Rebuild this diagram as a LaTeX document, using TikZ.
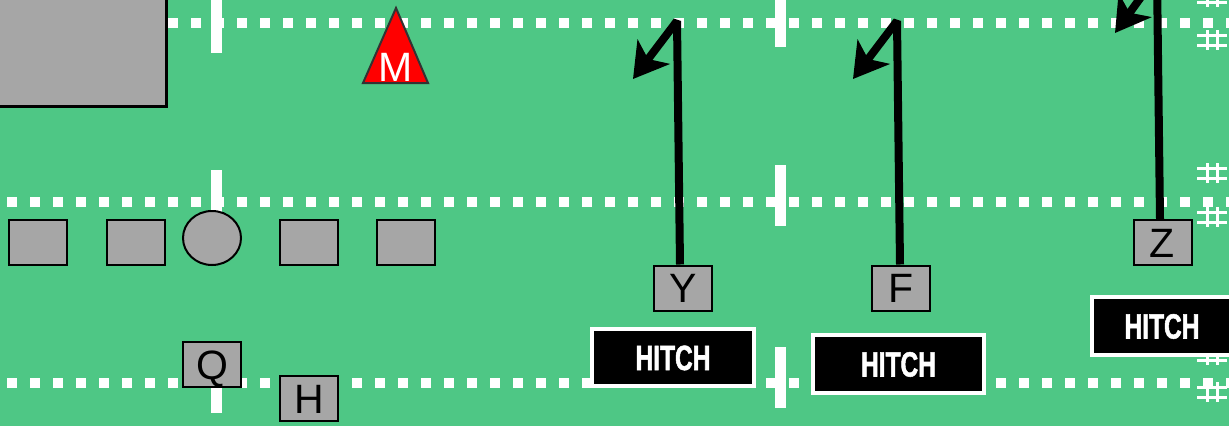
\documentclass[tikz,border=0pt]{standalone}
\usepackage{fontspec}
\setmainfont{Liberation Sans}
\newfontfamily\hitchfont[FakeStretch=0.7, FakeBold=1.5]{Liberation Sans Bold}
\usepackage{tikz}
\usetikzlibrary{shapes.geometric, arrows.meta}
\definecolor{fieldgreen}{RGB}{78,199,133}
\definecolor{playergray}{RGB}{166,166,166}
\tikzstyle{player} = [
  rectangle, draw=black, fill=playergray, line width=2pt,
  minimum width=58pt, minimum height=45pt, inner sep=0pt,
  font=\fontsize{41}{41}\selectfont, text height=29.4pt, text depth=0pt
]
\tikzstyle{snapper} = [
  ellipse, draw=black, fill=playergray, line width=2pt,
  minimum width=58pt, minimum height=54pt, inner sep=0pt
]
\tikzstyle{hitch} = [
  rectangle, draw=white, fill=black, line width=4pt, text=white,
  font=\hitchfont\fontsize{35}{35}\selectfont,
  text height=25pt, text depth=0pt, inner sep=0pt
]
\tikzstyle{route} = [line width=8pt, line join=bevel, -{Stealth[length=34pt, width=40pt, inset=9pt]}]
\tikzstyle{yardline} = [white, line width=9.5pt, dash pattern=on 9.5pt off 13.5pt, dash phase=16pt]
\tikzstyle{hashline} = [white, line width=11pt]
\tikzstyle{sidemark} = [white, line width=3pt]

\begin{document}
\begin{tikzpicture}[x=1pt, y=-1pt]

  \useasboundingbox (0,0) rectangle (1229,426);
  \clip (0,0) rectangle (1229,426);
  \fill[fieldgreen] (0,0) rectangle (1229,426);

  % Yard lines
  \foreach \yy in {23,202,383}
    \draw[yardline] (0,\yy) -- (1229,\yy);

  % Hash marks
  \foreach \xx/\ya/\yb in {216/-5/53, 216/170/235, 216/355/413,
                           780/-5/47, 780/165/226, 780/347/408}
    \draw[hashline] (\xx,\ya) -- (\xx,\yb);

  % Side marks
  \foreach \yy in {-3,40,173,217,355,392} {
    \draw[sidemark] (1197,\yy-5) -- (1227,\yy-5) (1197,\yy+5) -- (1227,\yy+5);
    \draw[sidemark] (1207,\yy-10) -- (1207,\yy+10) (1217,\yy-10) -- (1217,\yy+10);
  }

  % Corner box
  \draw[fill=playergray, line width=3.5pt] (-20,-20) rectangle (166.5,106.5);

  % Offensive line
  \node[player] (lt) at (38,242.5) {};
  \node[player] (lg) at (135.5,242.5) {};
  \node[snapper] (c) at (212,238) {};
  \node[player] (rg) at (309,242.5) {};
  \node[player] (rt) at (406,242.5) {};

  % Backfield
  \node[player] (q) at (212,364.5) {Q};
  \node[player] (h) at (309,398.5) {H};

  % Receivers
  \node[player] (y) at (683,288) {Y};
  \node[player] (f) at (901,288) {F};
  \node[player] (z) at (1162.5,242.5) {Z};

  % Defender
  \draw[fill=red, draw=black!80, line width=2pt] (363,83) -- (396,8) -- (428,83) -- cycle;
  \node[text=white, inner sep=0pt, font=\fontsize{41}{41}\selectfont,
        text height=29.4pt, text depth=0pt] (m) at (396,67) {M};

  % Routes
  \coordinate (yturn) at (677,21);
  \coordinate (ycatch) at (633,79);
  \coordinate (fturn) at (897,21);
  \coordinate (fcatch) at (853,79);
  \coordinate (zturn) at (1157,-25);
  \coordinate (zcatch) at (1115,33);
  \draw[route] ([xshift=-3pt]y.north) -- (yturn) -- (ycatch);
  \draw[route] ([xshift=-1pt]f.north) -- (fturn) -- (fcatch);
  \draw[route] ([xshift=-2.5pt]z.north) -- (zturn) -- (zcatch);

  % Route labels
  \node[hitch, minimum width=162pt, minimum height=57pt] (yhitch) at (673,357.5) {HITCH};
  \node[hitch, minimum width=171pt, minimum height=58pt] (fhitch) at (898.5,364) {HITCH};
  \node[hitch, minimum width=140pt, minimum height=58pt] (zhitch) at (1162,326) {HITCH};

\end{tikzpicture}
\end{document}
